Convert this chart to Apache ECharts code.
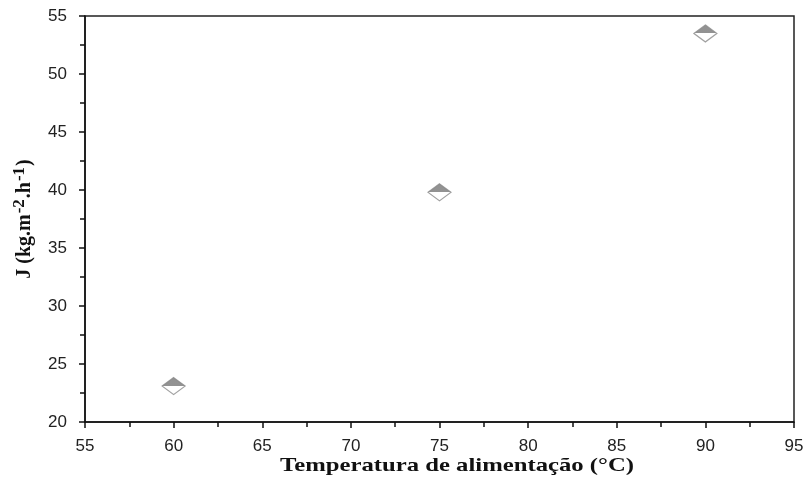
<!DOCTYPE html>
<html>
<head>
<meta charset="utf-8">
<script src="https://cdn.jsdelivr.net/npm/echarts@6/dist/echarts.min.js"></script>
<style>
  html, body { margin: 0; padding: 0; background: #fff; }
  #chart { width: 804px; height: 477px; }
</style>
</head>
<body>
<div id="chart"></div>
<script>
// Permeate flux J versus feed temperature
const temperatures = [60, 75, 90];
const fluxValues = [23.1, 39.8, 53.5];

const xTicks = { min: 55, max: 95, interval: 5 };
const yTicks = { min: 20, max: 55, interval: 5 };

const xTitle = 'Temperatura de alimentação (°C)';

const points = temperatures.map((t, i) => [t, fluxValues[i]]);

// Half-filled diamond: grey upper half, white lower half
const halfFill = {
  type: 'linear', x: 0, y: 0, x2: 0, y2: 1,
  colorStops: [
    { offset: 0, color: '#777777' },
    { offset: 0.5, color: '#777777' },
    { offset: 0.5, color: '#ffffff' },
    { offset: 1, color: '#ffffff' }
  ]
};

const serifBold = 'Liberation Serif, Times New Roman, serif';
const tickFont = { fontFamily: 'Liberation Sans, Arial, sans-serif', fontSize: 17, color: '#222' };

const chart = echarts.init(document.getElementById('chart'), null, { renderer: 'canvas' });
chart.setOption({
  animation: false,
  backgroundColor: '#fff',
  grid: {
    left: 85, right: 10, top: 16, bottom: 55,
    outerBoundsMode: 'none',
    containLabel: false,
    show: true, borderColor: '#222', borderWidth: 1.5, backgroundColor: 'transparent'
  },
  xAxis: {
    type: 'value',
    min: xTicks.min, max: xTicks.max, interval: xTicks.interval,
    axisLine: { lineStyle: { color: '#111', width: 1.5 } },
    axisTick: { show: true, length: 6, lineStyle: { color: '#111', width: 1.5 } },
    minorTick: { show: true, splitNumber: 2, length: 5, lineStyle: { color: '#111', width: 1.5 } },
    splitLine: { show: false },
    axisLabel: Object.assign({ margin: 16 }, tickFont)
  },
  yAxis: {
    type: 'value',
    min: yTicks.min, max: yTicks.max, interval: yTicks.interval,
    name: '{n|J (kg.m}{s|-2}{n|.h}{s|-1}{n|)}',
    nameLocation: 'middle',
    nameGap: 50,
    nameMoveOverlap: false,
    nameRotate: 90,
    nameTextStyle: {
      rich: {
        n: { fontFamily: serifBold, fontWeight: 'bold', fontSize: 20, color: '#111', verticalAlign: 'bottom', lineHeight: 24 },
        s: { fontFamily: serifBold, fontWeight: 'bold', fontSize: 17, color: '#111', verticalAlign: 'top', padding: [0, 1, 14, 1], lineHeight: 24 }
      }
    },
    axisLine: { lineStyle: { color: '#111', width: 1.5 } },
    axisTick: { show: true, length: 6, lineStyle: { color: '#111', width: 1.5 } },
    minorTick: { show: true, splitNumber: 2, length: 5, lineStyle: { color: '#111', width: 1.5 } },
    splitLine: { show: false },
    axisLabel: Object.assign({ margin: 18 }, tickFont)
  },
  graphic: [{
    type: 'text',
    x: 457, y: 466,
    scaleX: 1.3,
    style: {
      text: xTitle,
      font: 'bold 19px ' + serifBold,
      fill: '#111',
      align: 'center',
      verticalAlign: 'middle'
    }
  }],
  series: [{
    type: 'scatter',
    data: points,
    symbol: 'diamond',
    symbolSize: [23, 17],
    itemStyle: { color: halfFill, borderColor: '#8a8a8a', borderWidth: 1.2 }
  }]
});
</script>
</body>
</html>
